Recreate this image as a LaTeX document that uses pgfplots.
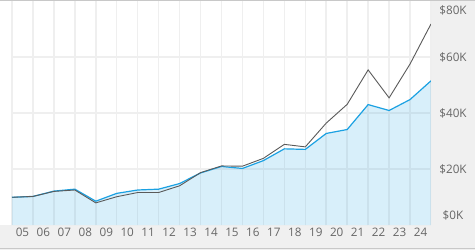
\documentclass[border=0pt]{standalone}
\usepackage{fontspec}
\setmainfont{Open Sans}
\usepackage{pgfplots}
\usepackage{pgfplotstable}
\pgfplotsset{compat=1.18}
\definecolor{bgray}{HTML}{F0F0F0}
\definecolor{gridc}{HTML}{EFEFEF}
\definecolor{fundblue}{HTML}{1BA1E2}
\definecolor{idxgray}{HTML}{5A5A5A}
\definecolor{lbl}{HTML}{666666}
\definecolor{bordc}{HTML}{C8C8C8}
\pgfplotstableread{
x fund index
0 9.9 9.9
1 10.2 10.2
2 12.1 12.0
3 12.8 12.5
4 8.5 7.9
5 11.3 10.1
6 12.5 11.6
7 12.8 11.6
8 14.8 14.0
9 18.6 18.7
10 20.9 21.1
11 20.2 21.0
12 23.0 23.8
13 27.2 28.8
14 27.0 27.9
15 32.7 36.4
16 34.1 43.1
17 43.0 55.4
18 40.9 45.4
19 44.8 57.5
20 51.5 71.8
}\data
\begin{document}
\begin{tikzpicture}[x=1pt,y=1pt]
\useasboundingbox (0,0) rectangle (475,250);
\fill[bgray] (0,0) rectangle (475,250);
\fill[white] (0,25) rectangle (431,249);
\draw[bordc, line width=1pt] (0,249.5) -- (475,249.5);
\draw[bordc, line width=1pt] (0,1.5) -- (475,1.5);
\begin{axis}[
  at={(12pt,25pt)}, anchor=south west,
  scale only axis, width=419pt, height=224pt,
  xmin=0, xmax=20, ymin=0, ymax=80,
  axis line style={draw=none},
  major tick length=0pt,
  xtick={0,...,20}, xticklabels={},
  ytick={20,40,60}, yticklabels={},
  xmajorgrids, ymajorgrids,
  major grid style={gridc, line width=1.5pt},
  extra x ticks={0.5,1.5,...,19.5},
  extra x tick labels={05,06,07,08,09,10,11,12,13,14,15,16,17,18,19,20,21,22,23,24},
  extra x tick style={grid=none, major tick length=0pt},
  extra y ticks={3.4,20,40,60,76.6},
  extra y tick labels={\$0K,\$20K,\$40K,\$60K,\$80K},
  extra y tick style={grid=none, major tick length=0pt},
  yticklabel pos=right,
  tick label style={font=\fontsize{11.7}{14}\selectfont, text=lbl},
  xticklabel style={anchor=north, inner sep=0pt, yshift=-3.3pt},
  yticklabel style={anchor=center, inner sep=0pt, xshift=22pt},
]
\addplot[draw=none, fill=fundblue, fill opacity=0.17] table[x=x,y=fund]{\data} \closedcycle;
\addplot[fundblue, line width=1.2pt] table[x=x,y=fund]{\data};
\addplot[idxgray, line width=0.9pt] table[x=x,y=index]{\data};
\end{axis}
\end{tikzpicture}
\end{document}
